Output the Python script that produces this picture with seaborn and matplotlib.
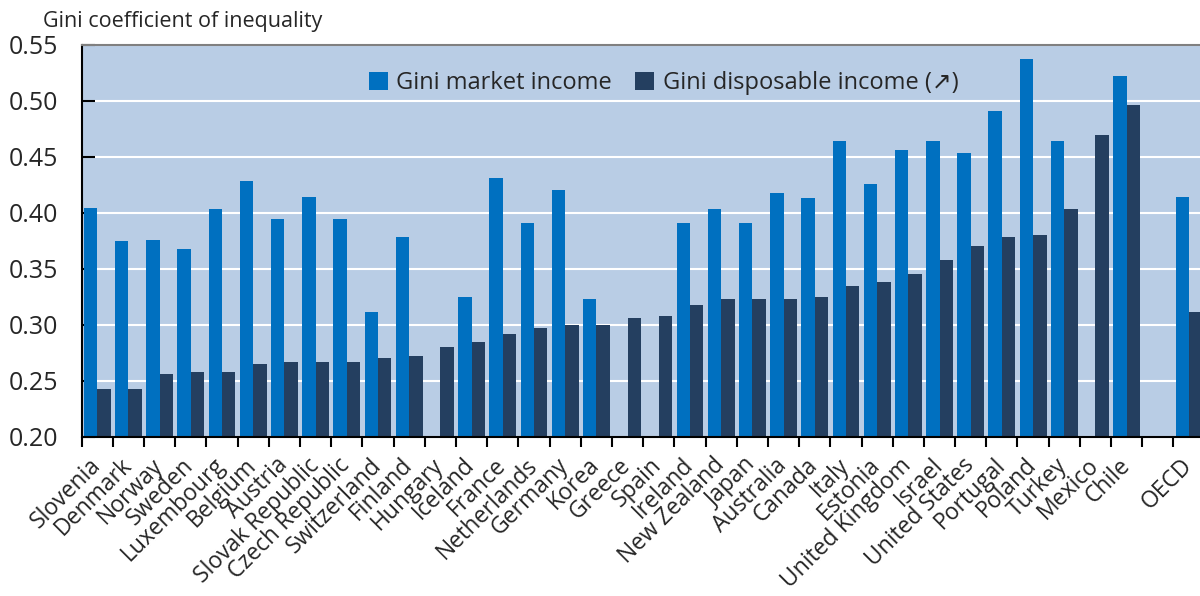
import matplotlib
matplotlib.use("Agg")
import matplotlib.pyplot as plt
import matplotlib.transforms as mtransforms
import seaborn as sns
import numpy as np
import pandas as pd
from matplotlib.patches import Patch
from matplotlib.ticker import MultipleLocator, FixedLocator

countries = ["Slovenia", "Denmark", "Norway", "Sweden", "Luxembourg", "Belgium", "Austria",
             "Slovak Republic", "Czech Republic", "Switzerland", "Finland", "Hungary", "Iceland",
             "France", "Netherlands", "Germany", "Korea", "Greece", "Spain", "Ireland",
             "New Zealand", "Japan", "Australia", "Canada", "Italy", "Estonia", "United Kingdom",
             "Israel", "United States", "Portugal", "Poland", "Turkey", "Mexico", "Chile", " ", "OECD"]

market = [0.404, 0.375, 0.376, 0.368, 0.403, 0.428, 0.394,
          0.414, 0.394, 0.311, 0.378, np.nan, 0.325,
          0.431, 0.391, 0.420, 0.323, np.nan, np.nan, 0.391,
          0.403, 0.391, 0.418, 0.413, 0.464, 0.426, 0.456,
          0.464, 0.453, 0.491, 0.537, 0.464, np.nan, 0.522, np.nan, 0.414]

disposable = [0.243, 0.243, 0.256, 0.258, 0.258, 0.265, 0.267,
              0.267, 0.267, 0.270, 0.272, 0.280, 0.285,
              0.292, 0.297, 0.300, 0.300, 0.306, 0.308, 0.318,
              0.323, 0.323, 0.323, 0.325, 0.335, 0.338, 0.345,
              0.358, 0.370, 0.378, 0.380, 0.403, 0.469, 0.496, np.nan, 0.311]

series_names = ["Gini market income", "Gini disposable income (\u2197)"]
colors = ["#0070C0", "#243F60"]

df = pd.DataFrame({
    "country": countries * 2,
    "series": [series_names[0]] * len(countries) + [series_names[1]] * len(countries),
    "value": market + disposable,
})

sns.set_theme(style="white")
plt.rcParams["font.family"] = ["Open Sans", "DejaVu Sans"]

fig = plt.figure(figsize=(12, 5.96), dpi=100)
ax = fig.add_axes([0.068, 0.267, 0.932, 0.658])
ax.set_facecolor("#B9CDE5")

sns.barplot(data=df, x="country", y="value", hue="series", order=countries,
            hue_order=series_names, palette=colors, width=0.86, saturation=1,
            linewidth=0, ax=ax, legend=False)

ax.set_ylim(0.20, 0.55)
ax.set_xlim(-0.5, 35.35)
ax.yaxis.set_major_locator(MultipleLocator(0.05))
ax.yaxis.set_major_formatter(matplotlib.ticker.FormatStrFormatter("%.2f"))
ax.grid(axis="y", color="white", linewidth=1.5)
ax.set_axisbelow(True)

for s in ["left", "bottom"]:
    ax.spines[s].set_color("black")
    ax.spines[s].set_linewidth(1.5)
ax.spines["top"].set_color("#808080")
ax.spines["top"].set_linewidth(1.5)
ax.spines["right"].set_visible(False)

ax.tick_params(axis="y", direction="in", length=9, width=1.5, color="black",
               labelsize=18, pad=17, left=True)
ax.set_xticks(range(len(countries)))
ax.set_xticklabels(countries, rotation=45, ha="right", va="baseline",
                   rotation_mode="anchor", fontsize=16.5)
ax.tick_params(axis="x", which="major", length=0, pad=21)
shift = mtransforms.ScaledTranslation(4 / 100, 0, fig.dpi_scale_trans)
for lbl in ax.get_xticklabels():
    lbl.set_transform(lbl.get_transform() + shift)
ax.xaxis.set_minor_locator(FixedLocator(np.arange(-0.5, len(countries) - 0.5, 1.0)))
ax.tick_params(axis="x", which="minor", direction="out", length=7, width=1.5, color="black", bottom=True)
ax.set_xlabel("")
ax.set_ylabel("")

fig.text(0.036, 0.964, "Gini coefficient of inequality", fontsize=15.5, ha="left", va="center")

handles = [Patch(facecolor=c, edgecolor="none") for c in colors]
ax.legend(handles, series_names, loc="center", bbox_to_anchor=(0.553, 0.86),
          bbox_transform=fig.transFigure, ncol=2, frameon=False, fontsize=17,
          handlelength=0.8, handleheight=0.8, handletextpad=0.35, columnspacing=1.0)

fig.savefig("out.png", dpi=100)
